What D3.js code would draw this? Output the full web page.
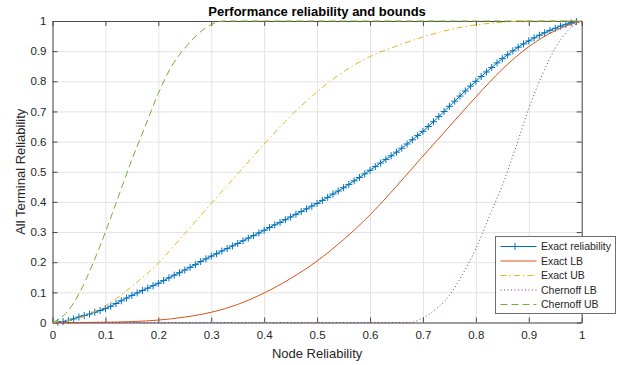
<!DOCTYPE html>
<html>
<head>
<meta charset="utf-8">
<script src="https://cdn.jsdelivr.net/npm/d3@7"></script>
<style>
    body { margin: 0; background: #fff; }
    text { font-family: "Liberation Sans", Arial, sans-serif; }
</style>
</head>
<body>
<div id="chart"></div>
<script>
// Exact reliability, sampled at p = 0.01 ... 0.99
const exactX = d3.range(1, 100).map(i => i / 100);
const exactY = [
    0.001, 0.003, 0.007, 0.012, 0.018, 0.023, 0.028, 0.034, 0.040, 0.046,
    0.054, 0.063, 0.072, 0.081, 0.090, 0.098, 0.106, 0.114, 0.122, 0.130,
    0.139, 0.148, 0.157, 0.165, 0.174, 0.183, 0.192, 0.202, 0.211, 0.220,
    0.228, 0.237, 0.245, 0.254, 0.262, 0.271, 0.280, 0.288, 0.297, 0.306,
    0.315, 0.324, 0.332, 0.341, 0.350, 0.359, 0.368, 0.377, 0.386, 0.395,
    0.405, 0.415, 0.426, 0.436, 0.447, 0.458, 0.470, 0.481, 0.493, 0.505,
    0.517, 0.529, 0.541, 0.553, 0.565, 0.578, 0.592, 0.606, 0.620, 0.634,
    0.650, 0.666, 0.683, 0.700, 0.717, 0.734, 0.751, 0.768, 0.784, 0.800,
    0.816, 0.831, 0.846, 0.861, 0.875, 0.888, 0.901, 0.913, 0.924, 0.934,
    0.944, 0.953, 0.961, 0.969, 0.976, 0.983, 0.989, 0.994, 0.998
];

// Bounds
const boundX = [0, 0.05, 0.1, 0.15, 0.2, 0.25, 0.3, 0.35, 0.4, 0.45, 0.5,
    0.55, 0.6, 0.65, 0.7, 0.75, 0.8, 0.85, 0.9, 0.95, 1];
const exactLB = [0, 0, 0.001, 0.003, 0.008, 0.018, 0.034, 0.060, 0.098, 0.146, 0.204,
    0.275, 0.357, 0.452, 0.552, 0.650, 0.748, 0.840, 0.915, 0.968, 1];
const exactUB = [0, 0.015, 0.055, 0.12, 0.197, 0.295, 0.395, 0.493, 0.592, 0.685, 0.765,
    0.832, 0.882, 0.917, 0.947, 0.971, 0.987, 0.996, 1, 1, 1];

const chernoffLBX = [0, 0.65, 0.675, 0.7, 0.725, 0.75, 0.775, 0.8, 0.825, 0.85,
    0.875, 0.9, 0.925, 0.95, 0.975, 1];
const chernoffLB = [0, 0, 0, 0.015, 0.045, 0.09, 0.16, 0.245, 0.35, 0.455,
    0.578, 0.71, 0.82, 0.91, 0.97, 1];

const chernoffUBX = [0, 0.025, 0.05, 0.075, 0.1, 0.125, 0.15, 0.175, 0.2, 0.225,
    0.25, 0.275, 0.3, 0.325, 0.5, 0.75, 1];
const chernoffUB = [0, 0.03, 0.095, 0.19, 0.30, 0.42, 0.54, 0.65, 0.76, 0.85,
    0.91, 0.957, 0.988, 1, 1, 1, 1];

const xTicks = [0, 0.1, 0.2, 0.3, 0.4, 0.5, 0.6, 0.7, 0.8, 0.9, 1];
const yTicks = [0, 0.1, 0.2, 0.3, 0.4, 0.5, 0.6, 0.7, 0.8, 0.9, 1];

const seriesNames = ["Exact reliability", "Exact LB", "Exact UB", "Chernoff LB", "Chernoff UB"];

const width = 627, height = 365;
const margin = { top: 21, right: 45.3, bottom: 42.5, left: 52.5 };
const innerW = width - margin.left - margin.right;
const innerH = height - margin.top - margin.bottom;

const axisColor = "#4a4a4a";
const textColor = "#262626";

const svg = d3.select("#chart")
    .append("svg")
    .attr("width", width)
    .attr("height", height);

const g = svg.append("g")
    .attr("transform", `translate(${margin.left},${margin.top})`);

const x = d3.scaleLinear().domain([0, 1]).range([0, innerW]);
const y = d3.scaleLinear().domain([0, 1]).range([innerH, 0]);

const fmt = d => String(+d.toFixed(1));

// Grid
g.append("g")
    .attr("transform", `translate(0,${innerH})`)
    .call(d3.axisBottom(x).tickValues(xTicks).tickSize(-innerH).tickFormat(""))
    .call(a => a.select(".domain").remove())
    .call(a => a.selectAll("line").attr("stroke", "#e3e3e3"));

g.append("g")
    .call(d3.axisLeft(y).tickValues(yTicks).tickSize(-innerW).tickFormat(""))
    .call(a => a.select(".domain").remove())
    .call(a => a.selectAll("line").attr("stroke", "#e3e3e3"));

// Axes box with inward ticks on all sides
function styleAxis(a) {
    a.select(".domain").attr("stroke", axisColor);
    a.selectAll(".tick line").attr("stroke", axisColor);
    a.selectAll("text")
        .attr("fill", textColor)
        .style("font-size", "11.5px")
        .style("font-family", "'Liberation Sans', Arial, sans-serif");
}

g.append("g")
    .attr("transform", `translate(0,${innerH})`)
    .call(d3.axisBottom(x).tickValues(xTicks).tickSize(-5).tickSizeOuter(0).tickPadding(8.5).tickFormat(fmt))
    .call(styleAxis);

g.append("g")
    .call(d3.axisTop(x).tickValues(xTicks).tickSize(-5).tickSizeOuter(0).tickFormat(""))
    .call(styleAxis);

g.append("g")
    .call(d3.axisLeft(y).tickValues(yTicks).tickSize(-5).tickSizeOuter(0).tickPadding(6).tickFormat(fmt))
    .call(styleAxis);

g.append("g")
    .attr("transform", `translate(${innerW},0)`)
    .call(d3.axisRight(y).tickValues(yTicks).tickSize(-5).tickSizeOuter(0).tickFormat(""))
    .call(styleAxis);

// Series
const styles = [
    { color: "#0072BD", dash: null },
    { color: "#D95319", dash: null },
    { color: "#EDB120", dash: "6,3,1.5,3" },
    { color: "#7E2F8E", dash: "1,2.5" },
    { color: "#77AC30", dash: "7,4" }
];

const lineLinear = d3.line().x(d => x(d[0])).y(d => y(d[1]));
const lineSmooth = d3.line().x(d => x(d[0])).y(d => y(d[1])).curve(d3.curveMonotoneX);

const exactData = exactX.map((v, i) => [v, exactY[i]]);
const seriesData = [
    exactData,
    boundX.map((v, i) => [v, exactLB[i]]),
    boundX.map((v, i) => [v, exactUB[i]]),
    chernoffLBX.map((v, i) => [v, chernoffLB[i]]),
    chernoffUBX.map((v, i) => [v, chernoffUB[i]])
];

seriesData.forEach((data, i) => {
    g.append("path")
        .datum(data)
        .attr("fill", "none")
        .attr("stroke", styles[i].color)
        .attr("stroke-width", 1)
        .attr("stroke-dasharray", styles[i].dash)
        .attr("d", i === 0 ? lineLinear : lineSmooth);

    if (i === 0) {
        // '+' markers
        const m = 3.5;
        g.append("g")
            .selectAll("path")
            .data(data)
            .enter()
            .append("path")
            .attr("fill", "none")
            .attr("stroke", styles[0].color)
            .attr("stroke-width", 1)
            .attr("d", d => {
                const px = x(d[0]), py = y(d[1]);
                return `M${px - m},${py}H${px + m}M${px},${py - m}V${py + m}`;
            });
    }
});

// Title and labels
svg.append("text")
    .attr("x", margin.left + innerW / 2)
    .attr("y", 15.5)
    .attr("text-anchor", "middle")
    .attr("fill", "#000")
    .style("font-size", "13px")
    .style("font-weight", "bold")
    .text("Performance reliability and bounds");

svg.append("text")
    .attr("x", margin.left + innerW / 2)
    .attr("y", 357.5)
    .attr("text-anchor", "middle")
    .attr("fill", textColor)
    .style("font-size", "13px")
    .text("Node Reliability");

svg.append("text")
    .attr("transform", `translate(24.5,${margin.top + innerH / 2}) rotate(-90)`)
    .attr("text-anchor", "middle")
    .attr("fill", textColor)
    .style("font-size", "13px")
    .text("All Terminal Reliability");

// Legend
const legend = svg.append("g").attr("transform", "translate(495.5,236.5)");

legend.append("rect")
    .attr("width", 120)
    .attr("height", 77)
    .attr("fill", "#fff")
    .attr("stroke", "#6e6e6e");

seriesNames.forEach((name, i) => {
    const ly = 10 + i * 14.5;
    legend.append("line")
        .attr("x1", 5).attr("x2", 41)
        .attr("y1", ly).attr("y2", ly)
        .attr("stroke", styles[i].color)
        .attr("stroke-dasharray", styles[i].dash);
    if (i === 0) {
        legend.append("path")
            .attr("fill", "none")
            .attr("stroke", styles[0].color)
            .attr("d", `M19.5,${ly - 3.5}V${ly + 3.5}M16,${ly}H23`);
    }
    legend.append("text")
        .attr("x", 45.5)
        .attr("y", ly + 3.7)
        .attr("fill", textColor)
        .style("font-size", "10.5px")
        .text(name);
});
</script>
</body>
</html>
